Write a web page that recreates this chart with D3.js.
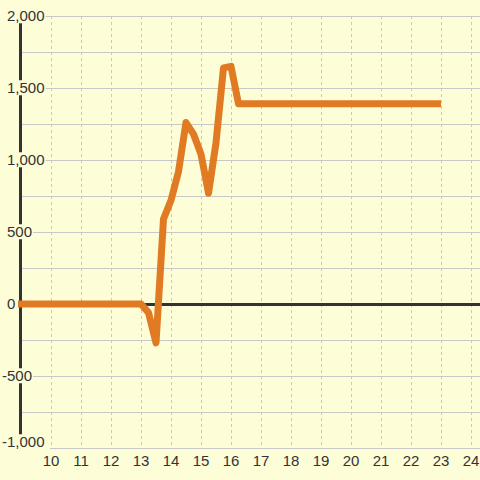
<!DOCTYPE html>
<html>
<head>
<meta charset="utf-8">
<script src="https://cdn.jsdelivr.net/npm/d3@7"></script>
<style>
  body { margin: 0; background: #fdfdd8; }
  svg { display: block; }
</style>
</head>
<body>
<svg id="chart" width="480" height="480"></svg>
<script>
// hours (x) and values (y)
var hours = [8.9, 13, 13.25, 13.5, 13.75, 14, 14.25, 14.5, 14.75, 15, 15.25, 15.5, 15.75, 16, 16.25, 23];
var values = [0, 0, -60, -270, 590, 720, 920, 1260, 1180, 1040, 770, 1120, 1640, 1650, 1390, 1390];
var xTicks = [10, 11, 12, 13, 14, 15, 16, 17, 18, 19, 20, 21, 22, 23, 24];
var yTicks = [-1000, -500, 0, 500, 1000, 1500, 2000];
var yGrid = [-1000, -750, -500, -250, 250, 500, 750, 1000, 1250, 1500, 1750, 2000];

var w = 480, h = 480;
var bg = "#fdfdd8";
var svg = d3.select("#chart");

svg.append("rect").attr("width", w).attr("height", h).attr("fill", bg);

var x = d3.scaleLinear().domain([9, 24]).range([21, 471]);
var y = d3.scaleLinear().domain([-1000, 2000]).range([448, 16]);

// vertical dashed grid
svg.append("g").selectAll("line")
    .data(xTicks)
    .enter()
    .append("line")
    .attr("x1", function (d) { return x(d) + 0.5; })
    .attr("x2", function (d) { return x(d) + 0.5; })
    .attr("y1", y(2000))
    .attr("y2", y(-1000))
    .attr("stroke", "#c8c8c8")
    .attr("stroke-width", 1)
    .attr("stroke-dasharray", "3,3");

// horizontal grid
svg.append("g").selectAll("line")
    .data(yGrid)
    .enter()
    .append("line")
    .attr("x1", function (d) { return d === -1000 ? x(10) - 1 : 21; })
    .attr("x2", w)
    .attr("y1", function (d) { return y(d) + 0.5; })
    .attr("y2", function (d) { return y(d) + 0.5; })
    .attr("stroke", "#c8c8c8")
    .attr("stroke-width", 1);

// zero line
svg.append("line")
    .attr("x1", 20).attr("x2", w)
    .attr("y1", y(0) + 0.5).attr("y2", y(0) + 0.5)
    .attr("stroke", "#333")
    .attr("stroke-width", 3);

// y axis line
svg.append("line")
    .attr("x1", 20.5).attr("x2", 20.5)
    .attr("y1", y(2000)).attr("y2", y(-1000) - 12)
    .attr("stroke", "#333")
    .attr("stroke-width", 3);

// data line
var line = d3.line()
    .x(function (d, i) { return x(hours[i]); })
    .y(function (d) { return y(d); });

svg.append("path")
    .attr("d", line(values))
    .attr("fill", "none")
    .attr("stroke", "#e07b24")
    .attr("stroke-width", 7)
    .attr("stroke-linejoin", "round");

// y labels with background
var yl = svg.append("g").selectAll("g")
    .data(yTicks)
    .enter()
    .append("g");

yl.append("text")
    .attr("x", function (d) { return d < 0 ? 2 : 7; })
    .attr("y", function (d) { return d === -1000 ? y(d) - 6 : y(d); })
    .attr("dy", "0.35em")
    .attr("text-anchor", "start")
    .attr("font-family", "Liberation Sans, Arial, sans-serif")
    .attr("font-size", 15)
    .attr("fill", "#333")
    .text(function (d) { return d3.format(",")(d).replace("−", "-"); });

yl.each(function () {
    var g = d3.select(this);
    var b = g.select("text").node().getBBox();
    g.insert("rect", "text")
        .attr("x", b.x - 1)
        .attr("y", b.y + 1)
        .attr("width", b.width + 2)
        .attr("height", b.height - 2)
        .attr("fill", bg);
});

// x labels
svg.append("g").selectAll("text")
    .data(xTicks)
    .enter()
    .append("text")
    .attr("x", function (d) { return x(d); })
    .attr("y", 466)
    .attr("text-anchor", "middle")
    .attr("font-family", "Liberation Sans, Arial, sans-serif")
    .attr("font-size", 15)
    .attr("fill", "#333")
    .text(function (d) { return d; });
</script>
</body>
</html>
